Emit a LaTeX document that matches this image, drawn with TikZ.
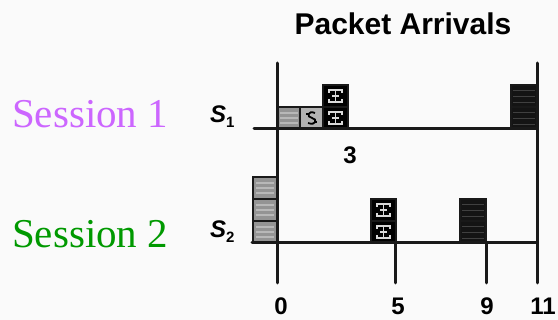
\documentclass[tikz,border=0pt]{standalone}
\usepackage{fontspec}
\setmainfont{Liberation Serif}
\setsansfont{Liberation Sans}
\definecolor{sessA}{RGB}{204,102,255}
\definecolor{sessB}{RGB}{0,153,0}
\definecolor{paper}{RGB}{250,250,250}
\begin{document}
\begin{tikzpicture}[x=1pt,y=-1pt,
  axisline/.style={line width=3pt, line cap=round, draw=black!90},
  cellbox/.style={draw=black!90, line width=2.6pt},
  ticklbl/.style={font=\sffamily\bfseries\fontsize{24}{24}\selectfont, inner sep=0pt},
  sesslbl/.style={font=\fontsize{41}{41}\selectfont, inner sep=0pt, anchor=base west},
  slbl/.style={font=\sffamily\bfseries\fontsize{24}{24}\selectfont, inner sep=0pt, anchor=base west},
  graycell/.pic={
    \fill[black!42] (0,0) rectangle (24,22);
    \foreach \yy in {6,11,16} \draw[black!28, line width=1.4pt] (3,\yy) -- (21,\yy);
    \draw[cellbox] (0,0) rectangle (24,22);
  },
  blackcell/.pic={
    \fill[black!92] (0,0) rectangle (26,22);
    \foreach \yy in {6,12,18} \draw[black!75, line width=1pt] (2,\yy) -- (24,\yy);
    \draw[cellbox] (0,0) rectangle (26,22);
  },
  patcell/.pic={
    \fill[black] (0,0) rectangle (25,22);
    \draw[white!85!black, line width=1.6pt]
      (6,8) -- (6,5) -- (19,5) -- (19,8)
      (12.5,5) -- (12.5,17)
      (6,14) -- (6,17) -- (19,17) -- (19,14)
      (9,11) -- (16,11);
    \draw[cellbox] (0,0) rectangle (25,22);
  },
  swirlcell/.pic={
    \fill[black!30] (0,0) rectangle (23,22);
    \draw[black, line width=1.8pt]
      (15,6) .. controls (8,3) and (6,10) .. (12,11)
      .. controls (18,12) and (16,19) .. (8,16);
    \draw[black, line width=1.4pt] (6,7) -- (9,7) (14,15) -- (17,15);
    \draw[cellbox] (0,0) rectangle (23,22);
  }
]
\useasboundingbox (0,0) rectangle (558,320);
\fill[paper] (0,0) rectangle (558,320);

% title
\node[font=\sffamily\bfseries\fontsize{30}{30}\selectfont, inner sep=0pt] (title) at (403,24) {Packet Arrivals};

% session names
\node[sesslbl, text=sessA] (sessone) at (12,128) {Session 1};
\node[sesslbl, text=sessB] (sesstwo) at (12,248) {Session 2};
\node[slbl] (sone) at (210,123) {\textit{S}\raisebox{-5pt}{\fontsize{15}{15}\selectfont 1}};
\node[slbl] (stwo) at (210,238) {\textit{S}\raisebox{-5pt}{\fontsize{15}{15}\selectfont 2}};

% time marks
\coordinate (topzero) at (277,63);
\coordinate (topend) at (537,63);
\coordinate (botzero) at (277,283);
\coordinate (botend) at (537,283);
\coordinate (fivetop) at (395,243);
\coordinate (fivebot) at (395,283);
\coordinate (ninetop) at (486,243);
\coordinate (ninebot) at (486,283);
\coordinate (axAstart) at (254,129);
\coordinate (axAend) at (537,129);
\coordinate (axBstart) at (252,243);
\coordinate (axBend) at (537,243);

% packets of session 1
\pic at (277,107) {graycell};
\pic at (300,107) {swirlcell};
\pic at (323,107) {patcell};
\pic at (323,85) {patcell};
\pic at (511,107) {blackcell};
\pic at (511,85) {blackcell};

% packets of session 2
\pic at (253,221) {graycell};
\pic at (253,199) {graycell};
\pic at (253,177) {graycell};
\pic at (371,221) {patcell};
\pic at (371,199) {patcell};
\pic at (460,221) {blackcell};
\pic at (460,199) {blackcell};

% axes
\draw[axisline] (topzero) -- (botzero);
\draw[axisline] (topend) -- (botend);
\draw[axisline] (fivetop) -- (fivebot);
\draw[axisline] (ninetop) -- (ninebot);
\draw[axisline] (axAstart) -- (axAend);
\draw[axisline] (axBstart) -- (axBend);

% labels
\node[ticklbl] (lthree) at (350,155) {3};
\node[ticklbl] (lzero) at (281,306) {0};
\node[ticklbl] (lfive) at (398,306) {5};
\node[ticklbl] (lnine) at (487,306) {9};
\node[ticklbl] (leleven) at (543,306) {11};
\end{tikzpicture}
\end{document}
